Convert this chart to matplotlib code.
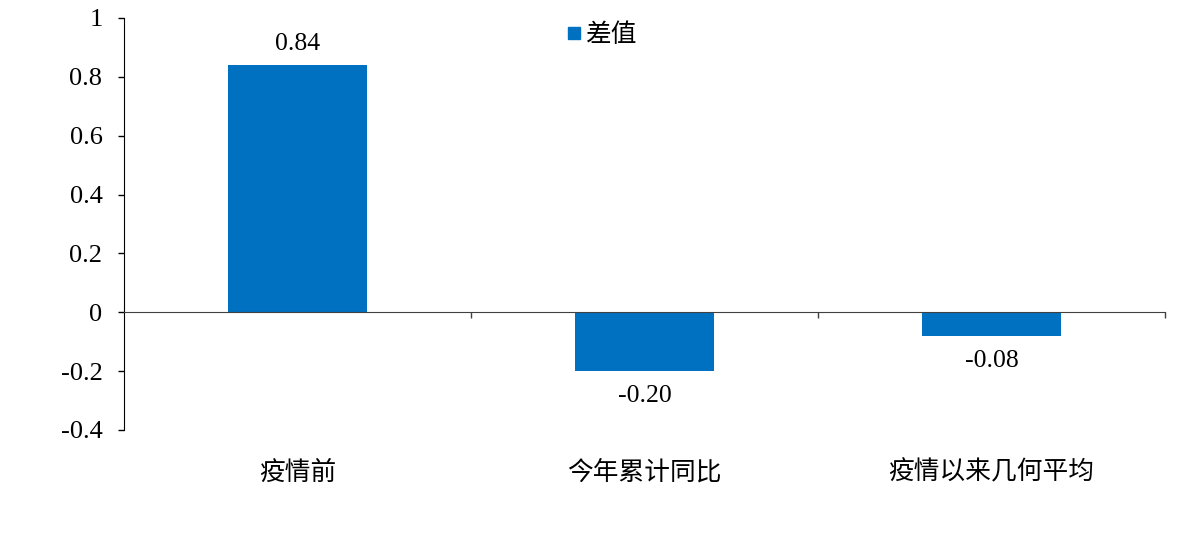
import matplotlib
matplotlib.use("Agg")
import matplotlib.pyplot as plt
from matplotlib.lines import Line2D
import matplotlib.transforms as mtrans

categories = ["疫情前", "今年累计同比", "疫情以来几何平均"]
values = [0.84, -0.20, -0.08]
value_labels = ["0.84", "-0.20", "-0.08"]
series_name = "差值"
yticks = [-0.4, -0.2, 0, 0.2, 0.4, 0.6, 0.8, 1]
ytick_labels = ["-0.4", "-0.2", "0", "0.2", "0.4", "0.6", "0.8", "1"]

BAR = "#0070C0"
CJK = ["Noto Sans CJK SC", "DejaVu Sans"]
SERIF = ["Liberation Serif", "DejaVu Serif"]

fig = plt.figure(figsize=(12, 5.35), dpi=100)
ax = fig.add_axes([0.1033, 0.1963, 0.8675, 0.7701])

x = list(range(len(categories)))
ax.bar(x, values, width=0.4, color=BAR, zorder=2)

ax.set_xlim(-0.5, len(categories) - 0.5)
ax.set_ylim(-0.4, 1)

for s in ["top", "right"]:
    ax.spines[s].set_visible(False)
ax.spines["bottom"].set_position(("data", 0))
ax.spines["bottom"].set_color("#404040")
ax.spines["left"].set_color("black")
ax.spines["bottom"].set_zorder(3)

ax.set_yticks(yticks)
ax.set_yticklabels(ytick_labels, fontfamily=SERIF, fontsize=19)
ax.tick_params(axis="y", direction="out", length=4.5, width=1, pad=11)

ax.set_xticks([0.5 + i for i in range(len(categories))])
ax.set_xticklabels([])
ax.tick_params(axis="x", direction="out", length=4.5, width=1, color="#404040")

trans = mtrans.blended_transform_factory(ax.transData, ax.transAxes)
for i, c in enumerate(categories):
    ax.text(i, -0.103, c, transform=trans, ha="center", va="center",
            fontfamily=CJK, fontsize=18.5)

for i, (v, lab) in enumerate(zip(values, value_labels)):
    if v >= 0:
        ax.annotate(lab, (i, v), xytext=(0, 7), textcoords="offset points",
                    ha="center", va="bottom", fontfamily=SERIF, fontsize=18.5)
    else:
        ax.annotate(lab, (i, v), xytext=(0, -10), textcoords="offset points",
                    ha="center", va="top", fontfamily=SERIF, fontsize=18.5)

handle = Line2D([], [], marker="s", color=BAR, linestyle="none", markersize=8)
leg = ax.legend([handle], [series_name], loc="center",
                bbox_to_anchor=(0.458, 0.958), frameon=False,
                prop={"family": CJK, "size": 18.5}, handletextpad=0.1,
                handlelength=0.7)

fig.savefig("out.png", dpi=100)
